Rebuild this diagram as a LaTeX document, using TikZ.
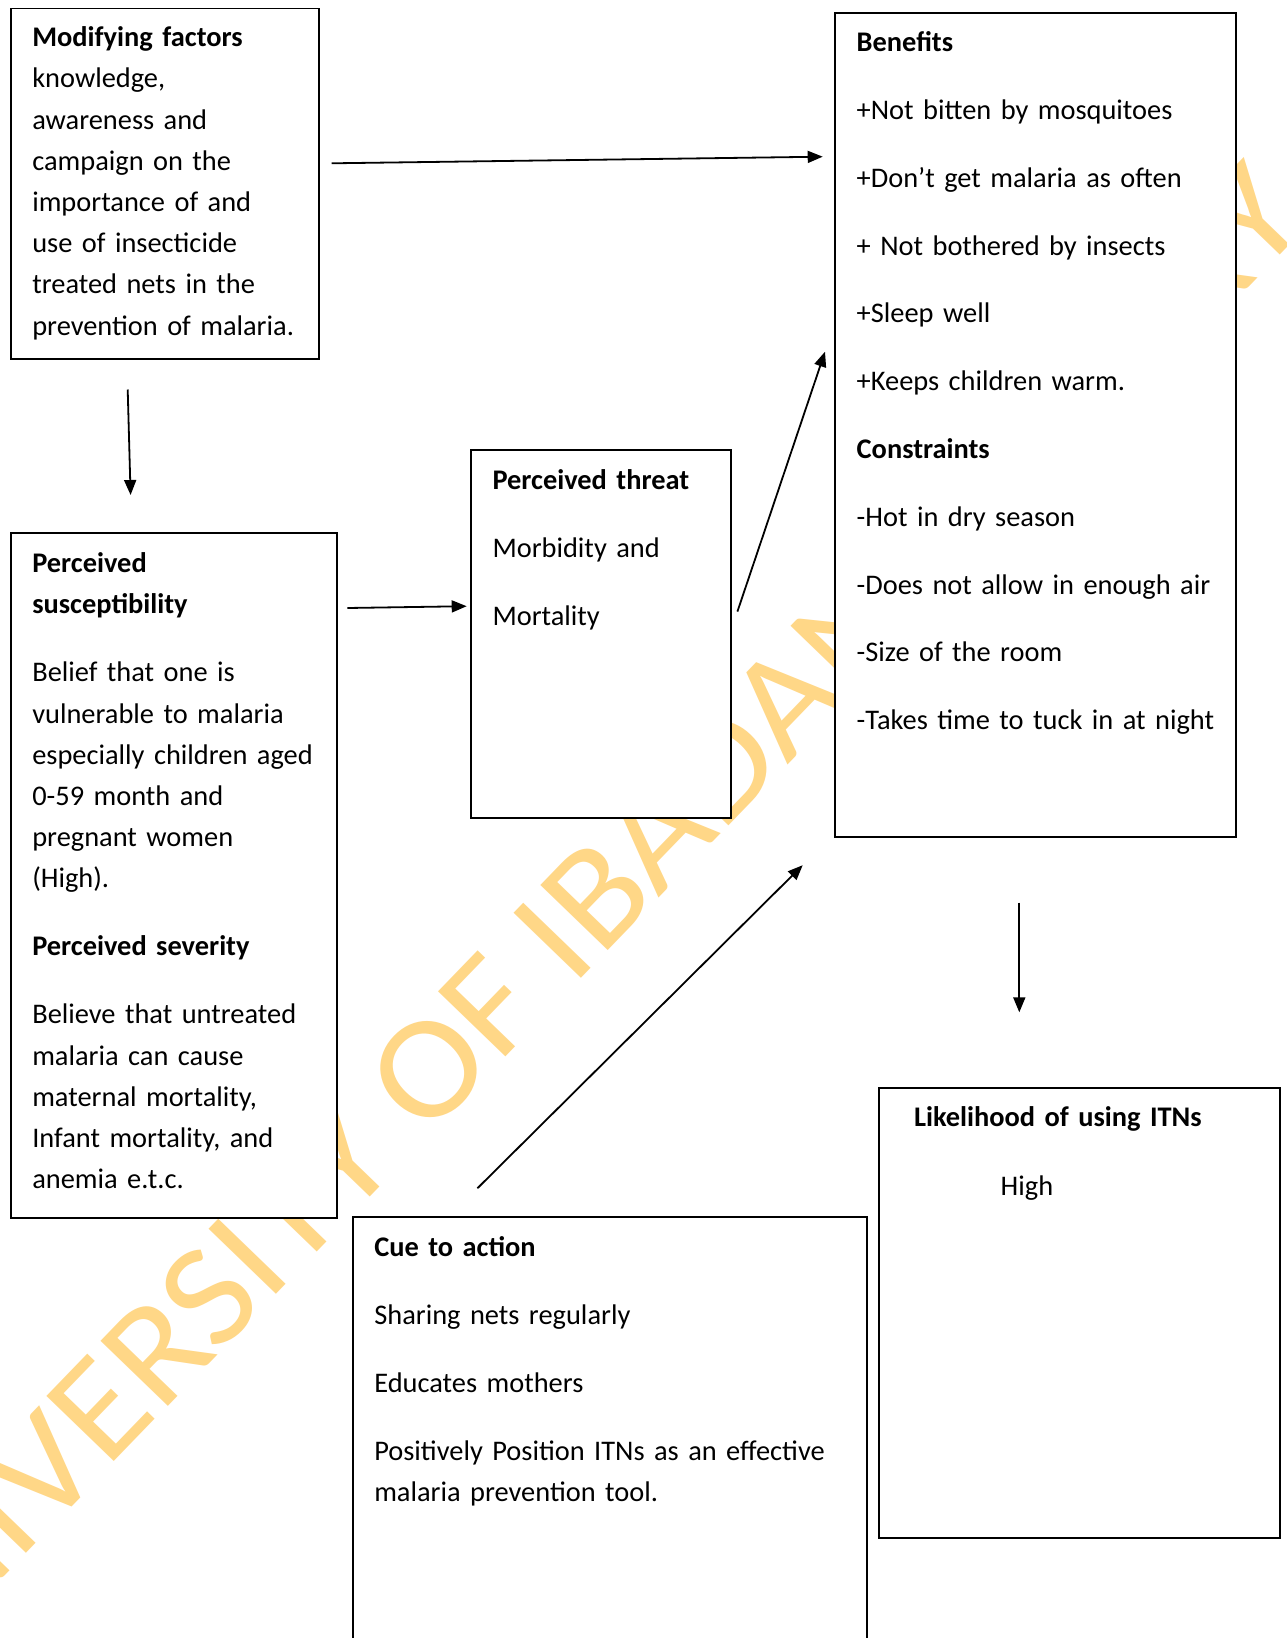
\documentclass[tikz,border=0pt]{standalone}
\usepackage{fontspec}
\setmainfont{Carlito}
\newfontfamily\wmfont[FakeStretch=1.075]{Carlito}
\usetikzlibrary{arrows.meta}
\definecolor{wm}{RGB}{255,215,135}
\begin{document}
\begin{tikzpicture}[x=1pt,y=-1pt,
  box/.style={draw=black,line width=1.8pt,fill=white,anchor=north west,inner sep=0pt,outer sep=0pt},
  txt/.style={anchor=base west,inner sep=0pt,outer sep=0pt,align=left,text width=#1,font=\fontsize{28.4}{41.2}\selectfont},
  conn/.style={line width=1.8pt,-{Triangle[length=15pt,width=12pt]}}]
\useasboundingbox[fill=white] (0,0) rectangle (1287,1638);
% watermark
\node[rotate=46,anchor=base west,text=wm,inner sep=0pt,font=\wmfont\fontsize{146}{146}\selectfont] (wmark) at (-123,1708) {UNIVERSITY OF IBADAN LIBRARY};
% boxes
\node[box,minimum width=308.3pt,minimum height=350.6pt] (A) at (10.7,8.4) {};
\node[box,minimum width=326.6pt,minimum height=684.7pt] (B) at (10.7,533) {};
\node[box,minimum width=260.3pt,minimum height=368pt] (C) at (470.9,450.2) {};
\node[box,minimum width=400.7pt,minimum height=824.6pt] (Ben) at (835,12.7) {};
\node[box,minimum width=513.4pt,minimum height=460pt] (D) at (353.3,1217.3) {};
\node[box,minimum width=400.4pt,minimum height=449.7pt] (E) at (879.3,1088.3) {};
% texts
\node[txt=300pt] (Atxt) at (32.3,46.7) {\textbf{Modifying factors}\\knowledge,\\awareness and\\campaign on the\\importance of and\\use of insecticide\\treated nets in the\\prevention of malaria.};
\node[txt=330pt] (Btxt) at (32.3,572.7) {\textbf{Perceived}\\\textbf{susceptibility}\\[26.8pt]Belief that one is\\vulnerable to malaria\\especially children aged\\0-59 month and\\pregnant women\\(High).\\[26.8pt]\textbf{Perceived severity}\\[26.8pt]Believe that untreated\\malaria can cause\\maternal mortality,\\Infant mortality, and\\anemia e.t.c.};
\node[txt=240pt] (Ctxt) at (492.5,489) {\textbf{Perceived threat}\\[26.8pt]Morbidity and\\[26.8pt]Mortality};
\node[txt=390pt] (Bentxt) at (856.7,51.7) {\textbf{Benefits}\\[26.6pt]+Not bitten by mosquitoes\\[26.6pt]+Don’t get malaria as often\\[26.6pt]+ Not bothered by insects\\[26.6pt]+Sleep well\\[26.6pt]+Keeps children warm.\\[26.6pt]\textbf{Constraints}\\[26.6pt]-Hot in dry season\\[26.6pt]-Does not allow in enough air\\[26.6pt]-Size of the room\\[26.6pt]-Takes time to tuck in at night};
\node[txt=500pt] (Dtxt) at (374.3,1256) {\textbf{Cue to action}\\[27pt]Sharing nets regularly\\[27pt]Educates mothers\\[27pt]Positively Position ITNs as an effective\\malaria prevention tool.};
\node[txt=360pt] (Etxt) at (914,1126.7) {\textbf{Likelihood of using ITNs}};
\node[txt=100pt] (Ehigh) at (1000.7,1195) {High};
% connector ends
\coordinate (a1) at (127.7,389.5);
\coordinate (b1) at (130.6,495);
\coordinate (a2) at (331.7,163.3);
\coordinate (ben1) at (822.7,156.7);
\coordinate (b2) at (347.3,608);
\coordinate (c1) at (466.7,606.2);
\coordinate (c2) at (737.4,611.6);
\coordinate (ben2) at (825,351.7);
\coordinate (d1) at (477.4,1188.3);
\coordinate (ben3) at (802.7,865.2);
\coordinate (ben4) at (1019.3,902.7);
\coordinate (e1) at (1019.3,1012.3);
\draw[conn] (a1) -- (b1);
\draw[conn] (a2) -- (ben1);
\draw[conn] (b2) -- (c1);
\draw[conn] (c2) -- (ben2);
\draw[conn] (d1) -- (ben3);
\draw[conn] (ben4) -- (e1);
\end{tikzpicture}
\end{document}
